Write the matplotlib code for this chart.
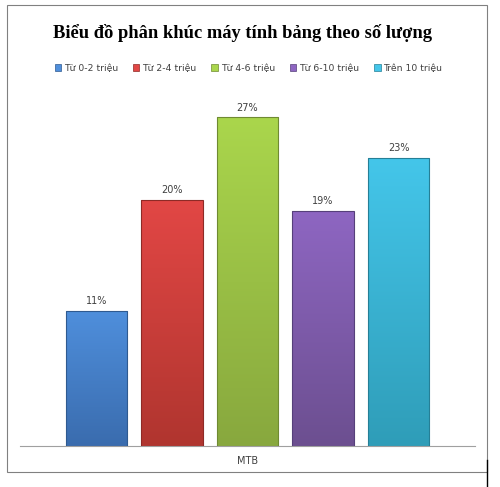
import matplotlib.pyplot as plt
import numpy as np
from matplotlib.colors import LinearSegmentedColormap
from matplotlib.patches import Rectangle
from matplotlib.lines import Line2D

# Data
categories = ["Từ 0-2 triệu", "Từ 2-4 triệu", "Từ 4-6 triệu", "Từ 6-10 triệu", "Trên 10 triệu"]
values = [0.11, 0.20, 0.267, 0.191, 0.234]
group_label = "MTB"
title = "Biểu đồ phân khúc máy tính bảng theo số lượng"

# gradient colours (top, bottom) for each bar
top_colors = ["#4f8fdc", "#e24745", "#aad64c", "#8e66c2", "#44c6ea"]
bottom_colors = ["#3a6cae", "#b0352f", "#88a83e", "#6c4f90", "#2f9db8"]
edge_colors = ["#2f5a90", "#8e2a26", "#6f8a32", "#56407a", "#257f96"]

fig = plt.figure(figsize=(5.0, 4.87), dpi=100)
ax = fig.add_axes([0.04, 0.0842, 0.91, 0.758])

x = np.arange(len(values))
bars = ax.bar(x, values, width=0.81, color="none", edgecolor=edge_colors, linewidth=0.8, zorder=3)

grad = np.linspace(0, 1, 256).reshape(-1, 1)
for bar, c1, c2 in zip(bars, top_colors, bottom_colors):
    cmap = LinearSegmentedColormap.from_list("g", [c2, c1])
    x0, y0 = bar.get_x(), bar.get_y()
    w, h = bar.get_width(), bar.get_height()
    im = ax.imshow(grad, cmap=cmap, aspect="auto", origin="lower",
                   extent=[x0, x0 + w, y0, y0 + h], zorder=2)
    im.set_clip_path(bar)
    ax.text(x0 + w / 2, y0 + h + 0.004, f"{int(round(h * 100))}%",
            ha="center", va="bottom", fontsize=7, color="#404040", zorder=4)

ax.set_xlim(-1.01, 5.01)
ax.set_ylim(0, 0.30)
for s in ["top", "right", "left"]:
    ax.spines[s].set_visible(False)
ax.spines["bottom"].set_color("#a0a0a0")
ax.spines["bottom"].set_linewidth(0.8)
ax.set_yticks([])
ax.set_xticks([2])
ax.set_xticklabels([group_label], fontsize=7, color="#404040")
ax.tick_params(axis="x", length=0, pad=7)

fig.text(0.485, 0.932, title, ha="center", va="center", fontsize=13.3,
         fontweight="bold", family="Liberation Serif")

handles = [Rectangle((0, 0), 1, 1, facecolor=c, edgecolor=e, linewidth=0.5)
           for c, e in zip(top_colors, edge_colors)]
fig.legend(handles, categories, loc="center", bbox_to_anchor=(0.497, 0.86), ncol=5,
           fontsize=6.7, frameon=False, handlelength=0.7, handleheight=0.7,
           handletextpad=0.3, columnspacing=1.6, labelcolor="#404040")

# outer chart border
fig.add_artist(Rectangle((7 / 500, 1 - 472 / 487), 480 / 500, 467 / 487,
                         transform=fig.transFigure, fill=False,
                         edgecolor="#808080", linewidth=0.8))
fig.add_artist(Line2D([487 / 500, 487 / 500], [0, 27 / 487],
                      transform=fig.transFigure, color="black", linewidth=1))

fig.savefig("out.png", dpi=100)
